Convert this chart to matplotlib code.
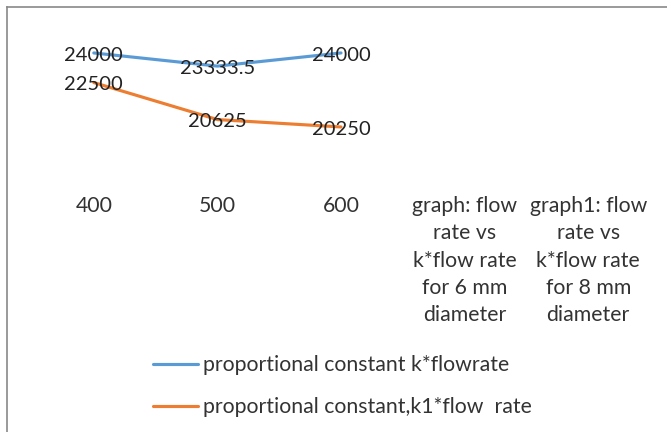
import matplotlib
matplotlib.use("Agg")
import matplotlib.pyplot as plt
from matplotlib.lines import Line2D

categories = ["400", "500", "600",
              "graph: flow\nrate vs\nk*flow rate\nfor 6 mm\ndiameter",
              "graph1: flow\nrate vs\nk*flow rate\nfor 8 mm\ndiameter"]
series_k = [24000, 23333.5, 24000]
series_k1 = [22500, 20625, 20250]
label_k = "proportional constant k*flowrate"
label_k1 = "proportional constant,k1*flow  rate"

blue = "#5B9BD5"
orange = "#ED7D31"

plt.rcParams['font.family'] = ['Lato', 'DejaVu Sans']

fig = plt.figure(figsize=(6.67, 4.32), dpi=100)
W, H = 667, 432
ax = fig.add_axes([32 / W, 1 - 185 / H, 618 / W, 165 / H])

x_all = list(range(len(categories)))
l1, = ax.plot(x_all[:len(series_k)], series_k, color=blue, lw=2.25, solid_capstyle='round')
l2, = ax.plot(x_all[:len(series_k1)], series_k1, color=orange, lw=2.25, solid_capstyle='round')

for xs, ys in ((x_all[:len(series_k)], series_k), (x_all[:len(series_k1)], series_k1)):
    for xi, yi in zip(xs, ys):
        lab = f"{yi:g}"
        ax.annotate(lab, (xi, yi), xytext=(0, -1.5), textcoords='offset points',
                    ha='center', va='center', fontsize=14.5, color='#222222')

ax.set_xlim(-0.5, len(categories) - 0.5)
ax.set_ylim(17310, 25670)
ax.set_xticks(x_all)
ax.set_xticklabels(categories, fontsize=15.3, color='#333333', linespacing=1.45)
ax.tick_params(axis='x', length=0, pad=8)
ax.set_yticks([])
for s in ax.spines.values():
    s.set_visible(False)
ax.patch.set_alpha(0)

leg = fig.legend([l1, l2], [label_k, label_k1], loc='upper left',
                 bbox_to_anchor=(153 / W, 1 - 355 / H), frameon=False,
                 fontsize=15.3, handlelength=2.1, handletextpad=0.25,
                 labelspacing=1.05, borderaxespad=0, borderpad=0)
for t in leg.get_texts():
    t.set_color('#333333')

# outer chart border (left and top visible)
fig.add_artist(Line2D([6.5 / W, 1], [1 - 7 / H, 1 - 7 / H], transform=fig.transFigure,
                      color='#898989', lw=1.2))
fig.add_artist(Line2D([6.5 / W, 6.5 / W], [0, 1 - 7 / H], transform=fig.transFigure,
                      color='#898989', lw=1.2))

fig.savefig("out.png", dpi=100, facecolor='white')
